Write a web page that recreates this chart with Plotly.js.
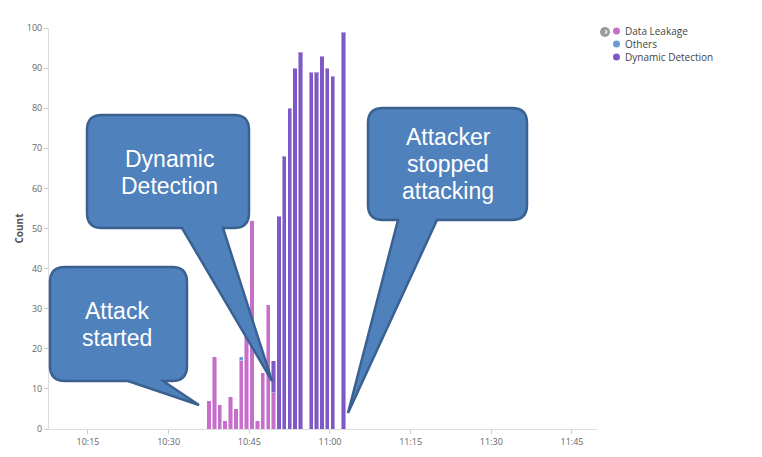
<!DOCTYPE html>
<html>
<head>
<meta charset="utf-8">
<script src="https://cdn.plot.ly/plotly-3.0.1.min.js"></script>
<style>
  html, body { margin: 0; padding: 0; background: #fff; }
  #chart { width: 762px; height: 457px; }
</style>
</head>
<body>
<div id="chart"></div>
<script>
// one bar per minute
var day = '2017-03-14 ';
var minutes = ['10:37', '10:38', '10:39', '10:40', '10:41', '10:42', '10:43', '10:44', '10:45',
               '10:46', '10:47', '10:48', '10:49', '10:50', '10:51', '10:52', '10:53', '10:54',
               '10:56', '10:57', '10:58', '10:59', '11:00', '11:02'];
var dataLeakage = [7, 18, 6, 2, 8, 5, 17, 25, 52, 2, 14, 31, 9, 0, 0, 0, 0, 0, 0, 0, 0, 0, 0, 0];
var others      = [0, 0, 0, 0, 0, 0, 1, 0, 0, 0, 0, 0, 0, 0, 0, 0, 0, 0, 0, 0, 0, 0, 0, 0];
var dynamicDet  = [0, 0, 0, 0, 0, 0, 0, 0, 0, 0, 0, 0, 8, 53, 68, 80, 90, 94, 89, 89, 93, 90, 88, 99];

var seriesNames = ['Data Leakage', 'Others', 'Dynamic Detection'];
var seriesColors = ['#c66fca', '#6a9bd6', '#7d58c6'];

var callouts = [
    {lines: ['Attack', 'started']},
    {lines: ['Dynamic', 'Detection']},
    {lines: ['Attacker', 'stopped', 'attacking']}
];

// plot box in pixels
var PLOT = {l: 49, r: 597, t: 28, b: 429};

function px(x) { return (x - PLOT.l) / (PLOT.r - PLOT.l); }
function py(y) { return (PLOT.b - y) / (PLOT.b - PLOT.t); }

// rounded box with a pointer coming out of the bottom edge
function bubblePath(L, T, R, B, rad, tailA, tailB, tipX, tipY) {
    var p = function(x, y) { return px(x) + ',' + py(y); };
    return 'M' + p(L + rad, T) +
        ' L' + p(R - rad, T) +
        ' Q' + p(R, T) + ' ' + p(R, T + rad) +
        ' L' + p(R, B - rad) +
        ' Q' + p(R, B) + ' ' + p(R - rad, B) +
        ' L' + p(tailB, B) +
        ' L' + p(tipX, tipY) +
        ' L' + p(tailA, B) +
        ' L' + p(L + rad, B) +
        ' Q' + p(L, B) + ' ' + p(L, B - rad) +
        ' L' + p(L, T + rad) +
        ' Q' + p(L, T) + ' ' + p(L + rad, T) + ' Z';
}

var boxes = [
    {L: 50, T: 267, R: 187, B: 381, a: 128, b: 163, tx: 199, ty: 405, cx: 117, cy: [311, 338]},
    {L: 87, T: 115, R: 249, B: 228, a: 182, b: 223, tx: 272, ty: 381, cx: 169, cy: [159, 186]},
    {L: 368, T: 108, R: 527, B: 220, a: 398, b: 437, tx: 348, ty: 413, cx: 448, cy: [137, 164, 191]}
];

var times = minutes.map(function(m) { return day + m; });

var traces = [dataLeakage, others, dynamicDet].map(function(vals, i) {
    return {
        type: 'bar',
        name: seriesNames[i],
        x: times,
        y: vals,
        xperiod: 60000,
        xperiodalignment: 'middle',
        marker: {color: seriesColors[i], line: {color: 'rgba(255,255,255,0.45)', width: 1}},
        showlegend: false,
        hoverinfo: 'x+y+name'
    };
});

var shapes = [];
var annotations = [];

boxes.forEach(function(bx, i) {
    shapes.push({
        type: 'path', xref: 'paper', yref: 'paper',
        path: bubblePath(bx.L, bx.T, bx.R, bx.B, 15, bx.a, bx.b, bx.tx, bx.ty),
        fillcolor: '#4f81bd',
        line: {color: '#3a6190', width: 2.5},
        layer: 'above'
    });
    callouts[i].lines.forEach(function(txt, k) {
        annotations.push({
            xref: 'paper', yref: 'paper', x: px(bx.cx), y: py(bx.cy[k]),
            text: txt, showarrow: false, xanchor: 'center', yanchor: 'middle',
            font: {family: 'Liberation Sans, Arial, sans-serif', size: 23, color: '#ffffff'}
        });
    });
});

// legend drawn by hand (small dots, tight rows)
seriesNames.forEach(function(name, i) {
    var ly = 31 + i * 13;
    shapes.push({
        type: 'circle', xref: 'paper', yref: 'paper',
        x0: px(613), x1: px(620), y0: py(ly + 3.5), y1: py(ly - 3.5),
        fillcolor: seriesColors[i], line: {width: 0}
    });
    annotations.push({
        xref: 'paper', yref: 'paper', x: px(623), y: py(ly),
        text: name, showarrow: false, xanchor: 'left', yanchor: 'middle',
        font: {family: 'Open Sans, sans-serif', size: 10, color: '#444'}
    });
});
shapes.push({
    type: 'circle', xref: 'paper', yref: 'paper',
    x0: px(600), x1: px(610), y0: py(37), y1: py(27),
    fillcolor: '#9a9a9a', line: {width: 0}
});
annotations.push({
    xref: 'paper', yref: 'paper', x: px(605.5), y: py(31.5),
    text: '<b>›</b>', showarrow: false, xanchor: 'center', yanchor: 'middle',
    font: {family: 'DejaVu Sans, sans-serif', size: 10, color: '#fff'}
});

var layout = {
    width: 762,
    height: 457,
    margin: {l: PLOT.l, r: 762 - PLOT.r, t: PLOT.t, b: 457 - PLOT.b, pad: 0},
    paper_bgcolor: '#fff',
    plot_bgcolor: '#fff',
    barmode: 'stack',
    bargap: 0.2,
    showlegend: false,
    font: {family: 'Open Sans, sans-serif', color: '#666', size: 9},
    xaxis: {
        type: 'date',
        range: [day + '10:07:45', day + '11:49:39'],
        tick0: day + '10:15',
        dtick: 900000,
        tickformat: '%H:%M',
        ticks: 'outside',
        ticklen: 4,
        tickcolor: '#ccc',
        showline: true,
        linecolor: '#ddd',
        showgrid: false,
        zeroline: false,
        tickfont: {size: 9, color: '#666'}
    },
    yaxis: {
        range: [0, 100],
        dtick: 10,
        ticks: 'outside',
        ticklen: 4,
        tickcolor: '#ccc',
        showline: true,
        linecolor: '#ddd',
        showgrid: false,
        zeroline: false,
        tickfont: {size: 9, color: '#666'},
        title: {text: '<b>Count</b>', font: {size: 10, color: '#555'}, standoff: 1}
    },
    shapes: shapes,
    annotations: annotations
};

Plotly.newPlot('chart', traces, layout, {displayModeBar: false, staticPlot: true});
</script>
</body>
</html>
